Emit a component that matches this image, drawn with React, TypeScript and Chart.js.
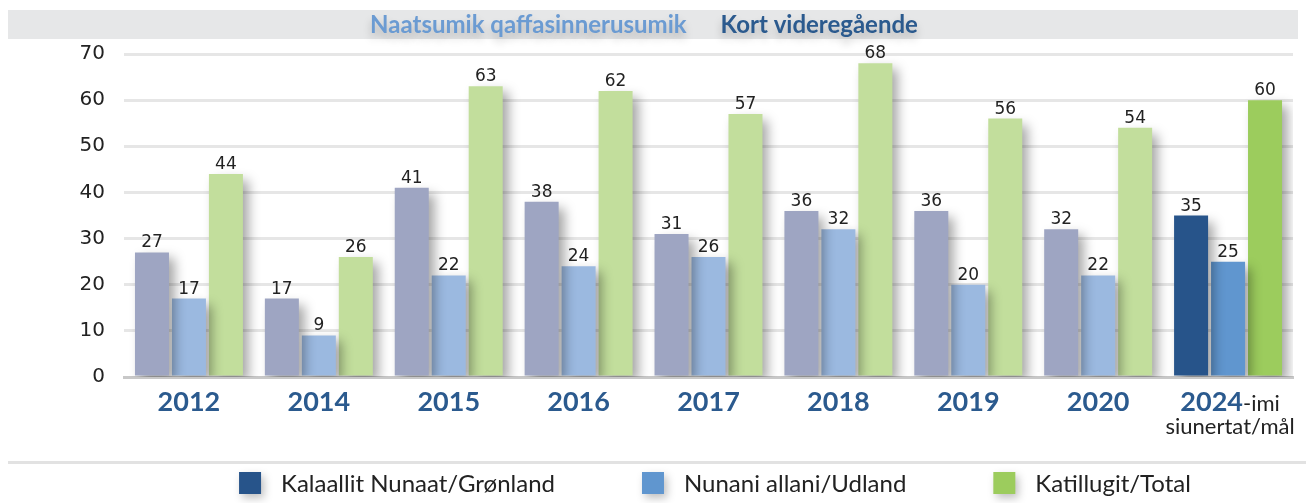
import React, { useEffect, useRef } from "react";
import { Chart, registerables } from "chart.js";

Chart.register(...registerables);

const categories = ["2012", "2014", "2015", "2016", "2017", "2018", "2019", "2020", "2024"];
const greenland = [27, 17, 41, 38, 31, 36, 36, 32, 35];
const abroad = [17, 9, 22, 24, 26, 32, 20, 22, 25];
const total = [44, 26, 63, 62, 57, 68, 56, 54, 60];
const seriesNames = ["Kalaallit Nunaat/Grønland", "Nunani allani/Udland", "Katillugit/Total"];
const yTicks = [0, 10, 20, 30, 40, 50, 60, 70];
const titleParts = ["Naatsumik qaffasinnerusumik", "Kort videregående"];
const lastSuffix = "-imi";
const lastSecondLine = "siunertat/mål";

const pastColors = ["#9ea5c2", "#9bb9e0", "#c2de9c"];
const targetColors = ["#27548a", "#6096cf", "#9ccc5d"];

const LABEL_FONT = "Lato";
const NUM_FONT = "DejaVu Sans";

function colorsFor(idx: number) {
  return categories.map((_, i) => (i === categories.length - 1 ? targetColors[idx] : pastColors[idx]));
}

const decorPlugin = {
  id: "decor",
  beforeDraw(chart: any) {
    const ctx = chart.ctx as CanvasRenderingContext2D;
    ctx.save();
    // title band
    ctx.fillStyle = "#e6e7e8";
    ctx.fillRect(8, 10, 1290, 29);
    ctx.font = `bold 24px ${LABEL_FONT}`;
    ctx.textBaseline = "alphabetic";
    const w0 = ctx.measureText(titleParts[0]).width;
    const w1 = ctx.measureText(titleParts[1]).width;
    const gap = 34;
    const start = 644 - (w0 + gap + w1) / 2;
    ctx.shadowColor = "rgba(0,0,0,0.22)";
    ctx.shadowBlur = 8;
    ctx.shadowOffsetY = 6;
    ctx.fillStyle = "#6b9bd2";
    ctx.fillText(titleParts[0], start, 33);
    ctx.fillStyle = "#2b5a8e";
    ctx.fillText(titleParts[1], start + w0 + gap, 33);
    ctx.shadowColor = "transparent";
    // separator
    ctx.fillStyle = "#e2e2e2";
    ctx.fillRect(8, 461, 1298, 3);
    ctx.restore();
  },
  beforeDatasetsDraw(chart: any) {
    const ctx = chart.ctx as CanvasRenderingContext2D;
    ctx.save();
    ctx.shadowColor = "rgba(0,0,0,0.36)";
    ctx.shadowBlur = 11;
    ctx.shadowOffsetX = 6;
    ctx.shadowOffsetY = 6;
  },
  afterDatasetsDraw(chart: any) {
    const ctx = chart.ctx as CanvasRenderingContext2D;
    ctx.restore();
    ctx.save();
    ctx.font = `17px ${NUM_FONT}`;
    ctx.fillStyle = "#222";
    ctx.textAlign = "center";
    ctx.textBaseline = "alphabetic";
    chart.data.datasets.forEach((ds: any, di: number) => {
      const meta = chart.getDatasetMeta(di);
      meta.data.forEach((bar: any, i: number) => {
        ctx.fillText(String(ds.data[i]), bar.x, bar.y - 5);
      });
    });
    ctx.restore();
  },
  afterDraw(chart: any) {
    const ctx = chart.ctx as CanvasRenderingContext2D;
    const xs = chart.scales.x;
    ctx.save();
    ctx.textBaseline = "middle";
    categories.forEach((c, i) => {
      const x = xs.getPixelForValue(i);
      if (i < categories.length - 1) {
        ctx.font = `bold 27px ${LABEL_FONT}`;
        ctx.fillStyle = "#2b5a8e";
        ctx.textAlign = "center";
        ctx.fillText(c, x, 402);
      } else {
        ctx.font = `bold 27px ${LABEL_FONT}`;
        const wa = ctx.measureText(c).width;
        ctx.font = `22px ${LABEL_FONT}`;
        const wb = ctx.measureText(lastSuffix).width;
        const sx = x + 2 - (wa + wb) / 2;
        ctx.textAlign = "left";
        ctx.font = `bold 27px ${LABEL_FONT}`;
        ctx.fillStyle = "#2b5a8e";
        ctx.fillText(c, sx, 402);
        ctx.font = `22px ${LABEL_FONT}`;
        ctx.fillStyle = "#222";
        ctx.fillText(lastSuffix, sx + wa, 404);
        ctx.textAlign = "center";
        ctx.fillText(lastSecondLine, x + 2, 427);
      }
    });
    // legend
    ctx.font = `24px ${LABEL_FONT}`;
    const boxW = 22;
    const textOff = 42;
    const itemGap = 87;
    const widths = seriesNames.map((n) => textOff + ctx.measureText(n).width);
    const totalW = widths.reduce((a, b) => a + b, 0) + itemGap * (widths.length - 1);
    let lx = 715 - totalW / 2;
    seriesNames.forEach((n, i) => {
      ctx.shadowColor = "rgba(0,0,0,0.25)";
      ctx.shadowBlur = 8;
      ctx.shadowOffsetX = 3;
      ctx.shadowOffsetY = 4;
      ctx.fillStyle = targetColors[i];
      ctx.fillRect(lx, 472, boxW, 22);
      ctx.shadowColor = "transparent";
      ctx.fillStyle = "#222";
      ctx.textAlign = "left";
      ctx.textBaseline = "middle";
      ctx.fillText(n, lx + textOff, 484);
      lx += widths[i] + itemGap;
    });
    ctx.restore();
  },
};

export default function App() {
  const ref = useRef<HTMLCanvasElement | null>(null);
  useEffect(() => {
    document.body.style.margin = "0";
    const canvas = ref.current!;
    const chart = new Chart(canvas, {
      type: "bar",
      data: {
        labels: categories,
        datasets: [
          { label: seriesNames[0], data: greenland, backgroundColor: colorsFor(0) },
          { label: seriesNames[1], data: abroad, backgroundColor: colorsFor(1) },
          { label: seriesNames[2], data: total, backgroundColor: colorsFor(2) },
        ],
      },
      options: {
        animation: false,
        responsive: false,
        devicePixelRatio: 1,
        layout: { padding: { top: 54, right: 13, left: 0, bottom: 0 } },
        datasets: { bar: { categoryPercentage: 0.854, barPercentage: 0.92 } },
        plugins: { legend: { display: false }, title: { display: false }, tooltip: { enabled: false } },
        scales: {
          x: {
            grid: { display: false, drawTicks: false },
            border: { display: true, color: "#c8c8c8", width: 3 },
            ticks: { display: false },
            afterFit(s: any) {
              s.height = 126;
            },
          },
          y: {
            min: 0,
            max: 70,
            afterBuildTicks(s: any) {
              s.ticks = yTicks.map((v) => ({ value: v }));
            },
            ticks: { padding: 19, font: { family: NUM_FONT, size: 20 }, color: "#222" },
            grid: {
              color: (c: any) => (c.tick && c.tick.value === 0 ? "#c8c8c8" : "#e6e6e6"),
              lineWidth: 3,
              drawTicks: false,
            },
            border: { display: false },
            afterFit(s: any) {
              s.width = 124;
            },
          },
        },
      },
      plugins: [decorPlugin],
    });
    return () => chart.destroy();
  }, []);
  return (
    <div style={{ width: 1306, height: 503, background: "#fff" }}>
      <canvas ref={ref} width={1306} height={503} style={{ display: "block" }} />
    </div>
  );
}
